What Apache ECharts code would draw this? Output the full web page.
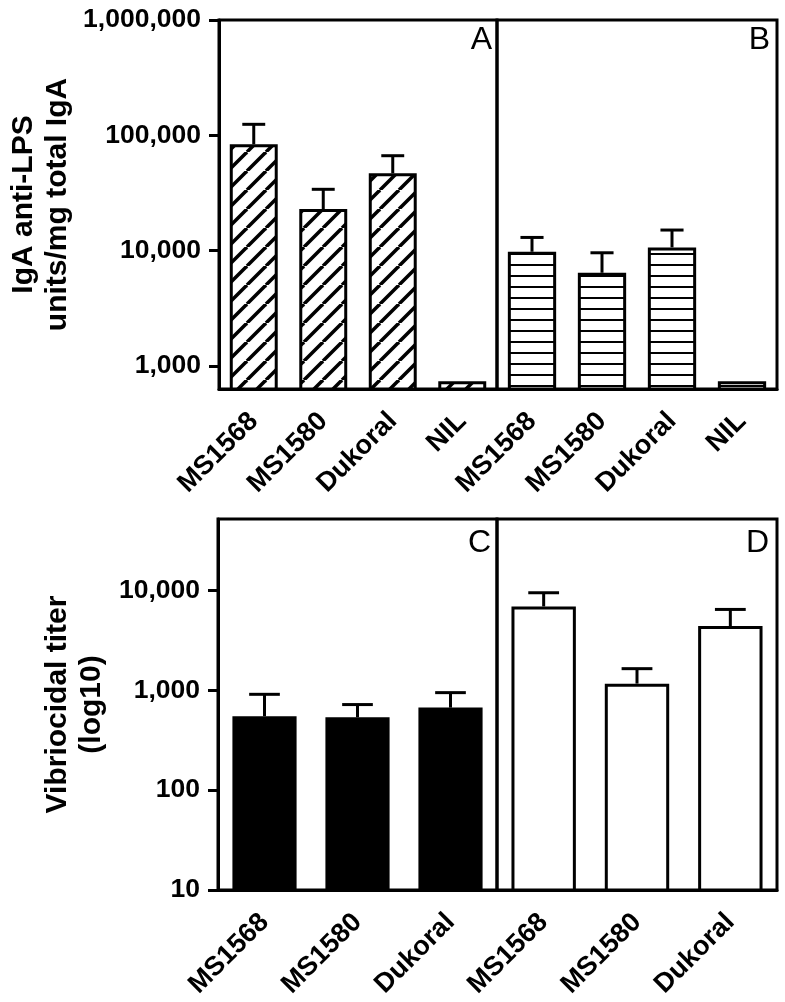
<!DOCTYPE html>
<html><head><meta charset="utf-8">
<script src="https://cdn.jsdelivr.net/npm/echarts@6/dist/echarts.min.js"></script>
<style>html,body{margin:0;padding:0;background:#fff}#chart{width:785px;height:1002px}</style>
</head><body><div id="chart"></div>
<script>
// ---- data ----
const categoriesTop = ['MS1568', 'MS1580', 'Dukoral', 'NIL'];
const igaA = [83500, 22900, 46800, 736];
const igaAErr = [124500, 34000, 66500, null];
const igaB = [9770, 6420, 10660, 736];
const igaBErr = [13000, 9570, 15070, null];
const categoriesBottom = ['MS1568', 'MS1580', 'Dukoral'];
const vibC = [550, 537, 671];
const vibCErr = [912, 720, 948];
const vibD = [6920, 1167, 4400];
const vibDErr = [9490, 1648, 6460];
const topTicks = [1000, 10000, 100000, 1000000];
const bottomTicks = [10, 100, 1000, 10000];
const topRange = [630, 1000000];
const bottomRange = [10, 52000];
const panelLetters = ['A', 'B', 'C', 'D'];
const titleTop = 'IgA anti-LPS\nunits/mg total IgA';
const titleBottom = 'Vibriocidal titer\n(log10)';

const FONT = '"Liberation Sans", Arial, Helvetica, sans-serif';

function diagonalPattern() {
  const s = 19; const c = document.createElement('canvas'); c.width = s; c.height = s;
  const g = c.getContext('2d'); g.fillStyle = '#fff'; g.fillRect(0, 0, s, s);
  g.strokeStyle = '#000'; g.lineWidth = 3.5;
  for (const k of [-1, 0, 1]) { g.beginPath(); g.moveTo(k * s, s); g.lineTo(k * s + s, 0); g.stroke(); }
  return c;
}
function horizontalPattern() {
  const c = document.createElement('canvas'); c.width = 4; c.height = 11;
  const g = c.getContext('2d'); g.fillStyle = '#fff'; g.fillRect(0, 0, 4, 11);
  g.fillStyle = '#000'; g.fillRect(0, 0, 4, 2);
  return c;
}

const fmt = v => Math.round(v).toLocaleString('en-US');

function xAxis(gridIndex, cats) {
  return {
    type: 'category', gridIndex, data: cats,
    axisLine: { lineStyle: { color: '#000', width: 3 } },
    axisTick: { alignWithLabel: true, length: 10, lineStyle: { color: '#000', width: 3 } },
    axisLabel: { interval: 0, rotate: 45, margin: 28, padding: [28, 0, 0, 0], color: '#000',
      fontSize: 27, fontWeight: 'bold', fontFamily: FONT },
    splitLine: { show: false }
  };
}
function yAxisShown(gridIndex, range, ticks, name, gap) {
  return {
    type: 'log', logBase: 10, gridIndex, min: range[0], max: range[1],
    name, nameLocation: 'middle', nameRotate: 90, nameGap: gap,
    nameTextStyle: { color: '#000', fontSize: 30, fontWeight: 'bold', fontFamily: FONT, lineHeight: 34 },
    axisLine: { show: true, lineStyle: { color: '#000', width: 3 } },
    axisTick: { show: true, length: 10, customValues: ticks, lineStyle: { color: '#000', width: 3 } },
    axisLabel: { customValues: ticks, margin: 18, color: '#000', fontSize: 26.5, fontWeight: 'bold',
      fontFamily: FONT, formatter: fmt },
    splitLine: { show: false }
  };
}
function yAxisHidden(gridIndex, range) {
  return { type: 'log', logBase: 10, gridIndex, min: range[0], max: range[1], show: false,
    splitLine: { show: false } };
}

function errRender(params, api) {
  const i = api.value(0), lo = api.value(1), hi = api.value(2);
  const p0 = api.coord([i, lo]); const p1 = api.coord([i, hi]);
  const half = api.size([1, 1], [i, hi])[0] * 0.33 / 2;
  return { type: 'group', children: [
    { type: 'line', shape: { x1: p0[0], y1: p0[1], x2: p1[0], y2: p1[1] }, style: { stroke: '#000', lineWidth: 3 } },
    { type: 'line', shape: { x1: p1[0] - half, y1: p1[1], x2: p1[0] + half, y2: p1[1] }, style: { stroke: '#000', lineWidth: 3 } }
  ] };
}
function errData(vals, errs) {
  const out = [];
  vals.forEach((v, i) => { if (errs[i] != null) out.push([i, v, errs[i]]); });
  return out;
}
function barSeries(idx, vals, fill) {
  return { type: 'bar', xAxisIndex: idx, yAxisIndex: idx, data: vals, barWidth: '69%', clip: true,
    itemStyle: { color: fill, borderColor: '#000', borderWidth: 3 }, silent: true, animation: false };
}
function errSeries(idx, vals, errs) {
  return { type: 'custom', xAxisIndex: idx, yAxisIndex: idx, data: errData(vals, errs),
    renderItem: errRender, encode: { x: 0, y: [1, 2] }, z: 3, silent: true, animation: false };
}

const gridBase = { show: true, borderColor: '#000', borderWidth: 3, backgroundColor: 'transparent',
  containLabel: false, outerBoundsMode: 'none' };

const chart = echarts.init(document.getElementById('chart'), null, { renderer: 'canvas' });
chart.setOption({
  backgroundColor: '#fff',
  animation: false,
  grid: [
    Object.assign({ left: 219, top: 20, width: 278, height: 369 }, gridBase),
    Object.assign({ left: 497, top: 20, width: 280, height: 369 }, gridBase),
    Object.assign({ left: 218, top: 519, width: 279, height: 371 }, gridBase),
    Object.assign({ left: 497, top: 519, width: 280, height: 371 }, gridBase)
  ],
  xAxis: [xAxis(0, categoriesTop), xAxis(1, categoriesTop), xAxis(2, categoriesBottom), xAxis(3, categoriesBottom)],
  yAxis: [
    yAxisShown(0, topRange, topTicks, titleTop, 144),
    yAxisHidden(1, topRange),
    yAxisShown(2, bottomRange, bottomTicks, titleBottom, 109),
    yAxisHidden(3, bottomRange)
  ],
  series: [
    barSeries(0, igaA, { image: diagonalPattern(), repeat: 'repeat' }),
    errSeries(0, igaA, igaAErr),
    barSeries(1, igaB, { image: horizontalPattern(), repeat: 'repeat' }),
    errSeries(1, igaB, igaBErr),
    barSeries(2, vibC, '#000'),
    errSeries(2, vibC, vibCErr),
    barSeries(3, vibD, '#fff'),
    errSeries(3, vibD, vibDErr)
  ],
  graphic: [
    { type: 'text', x: 492, y: 40, style: { text: panelLetters[0], font: '32px ' + FONT, fill: '#000', textAlign: 'right', textVerticalAlign: 'middle' } },
    { type: 'text', x: 770, y: 40, style: { text: panelLetters[1], font: '32px ' + FONT, fill: '#000', textAlign: 'right', textVerticalAlign: 'middle' } },
    { type: 'text', x: 491, y: 543, style: { text: panelLetters[2], font: '32px ' + FONT, fill: '#000', textAlign: 'right', textVerticalAlign: 'middle' } },
    { type: 'text', x: 769, y: 543, style: { text: panelLetters[3], font: '32px ' + FONT, fill: '#000', textAlign: 'right', textVerticalAlign: 'middle' } }
  ]
});
</script>
</body></html>
